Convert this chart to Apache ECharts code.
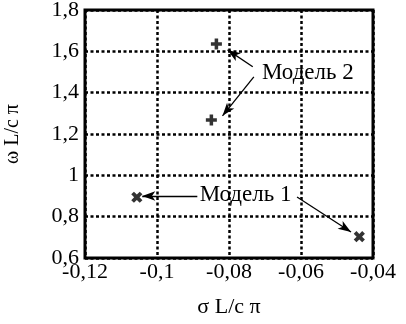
<!DOCTYPE html>
<html><head><meta charset="utf-8">
<script src="https://cdn.jsdelivr.net/npm/echarts@6/dist/echarts.min.js"></script>
<style>html,body{margin:0;padding:0;background:#fff}#c{width:406px;height:324px}</style>
</head><body><div id="c"></div>
<script>
const xTickLabels = ['-0,12', '-0,1', '-0,08', '-0,06', '-0,04'];
const yTickLabels = ['0,6', '0,8', '1', '1,2', '1,4', '1,6', '1,8'];
const model1 = [[-0.1056, 0.894], [-0.0438, 0.703]];
const model2 = [[-0.0835, 1.636], [-0.0849, 1.268]];
const model1Label = { text: 'Модель 1', at: [-0.0754, 0.905] };
const model2Label = { text: 'Модель 2', at: [-0.0581, 1.496] };
const model1Arrows = [[[-0.0888, 0.900], [-0.1041, 0.900]], [[-0.0611, 0.895], [-0.0461, 0.726]]];
const model2Arrows = [[[-0.0734, 1.525], [-0.0804, 1.607]], [[-0.0731, 1.476], [-0.0818, 1.288]]];

const FONT = '"Liberation Serif", "Times New Roman", serif';
const chart = echarts.init(document.getElementById('c'), null, {renderer: 'canvas'});
const plus = 'path://M3.4,0H6.6V3.4H10V6.6H6.6V10H3.4V6.6H0V3.4H3.4Z';
function arrowLines(list) {
  return list.map(p => [{coord: p[0]}, {coord: p[1]}]);
}
chart.setOption({
  animation: false,
  grid: {left: 85, right: 33, top: 10, bottom: 66, outerBoundsMode: 'none', containLabel: false,
    show: true, borderColor: '#000', borderWidth: 3, backgroundColor: 'transparent'},
  xAxis: {
    type: 'value', min: -0.12, max: -0.04, interval: 0.02,
    name: 'σ L/c π', nameLocation: 'middle', nameGap: 38,
    nameTextStyle: {fontFamily: FONT, fontSize: 22, color: '#000'},
    axisLine: {show: false}, axisTick: {show: false},
    axisLabel: {fontFamily: FONT, fontSize: 22, color: '#000', margin: 3,
      formatter: v => xTickLabels[Math.round((v + 0.12) / 0.02)]},
    splitLine: {show: true, lineStyle: {color: '#000', width: 2.5, type: [3, 2.5]}}
  },
  yAxis: {
    type: 'value', min: 0.6, max: 1.8, interval: 0.2,
    name: 'ω L/c π', nameLocation: 'middle', nameGap: 62,
    nameTextStyle: {fontFamily: FONT, fontSize: 20, color: '#000'},
    axisLine: {show: false}, axisTick: {show: false},
    axisLabel: {fontFamily: FONT, fontSize: 22, color: '#000', margin: 6,
      formatter: v => yTickLabels[Math.round((v - 0.6) / 0.2)]},
    splitLine: {show: true, lineStyle: {color: '#000', width: 2.5, type: [3, 2.5]}}
  },
  series: [
    {
      type: 'scatter', data: model1, symbol: plus, symbolSize: 12, symbolRotate: 45,
      itemStyle: {color: '#000'}, z: 5,
      markLine: {silent: true, symbol: ['none', 'arrow'], symbolSize: [7, 13], animation: false,
        lineStyle: {color: '#000', width: 1.3, type: 'solid'}, label: {show: false},
        data: arrowLines(model1Arrows)},
      markPoint: {silent: true, symbol: 'rect', symbolSize: 1, itemStyle: {color: 'transparent'},
        label: {show: true, formatter: model1Label.text, fontFamily: FONT, fontSize: 23, color: '#000', position: 'inside'},
        data: [{coord: model1Label.at}]}
    },
    {
      type: 'scatter', data: model2, symbol: plus, symbolSize: 11,
      itemStyle: {color: '#000'}, z: 5,
      markLine: {silent: true, symbol: ['none', 'arrow'], symbolSize: [7, 13], animation: false,
        lineStyle: {color: '#000', width: 1.3, type: 'solid'}, label: {show: false},
        data: arrowLines(model2Arrows)},
      markPoint: {silent: true, symbol: 'rect', symbolSize: 1, itemStyle: {color: 'transparent'},
        label: {show: true, formatter: model2Label.text, fontFamily: FONT, fontSize: 23, color: '#000', position: 'inside'},
        data: [{coord: model2Label.at}]}
    }
  ]
});
</script></body></html>
